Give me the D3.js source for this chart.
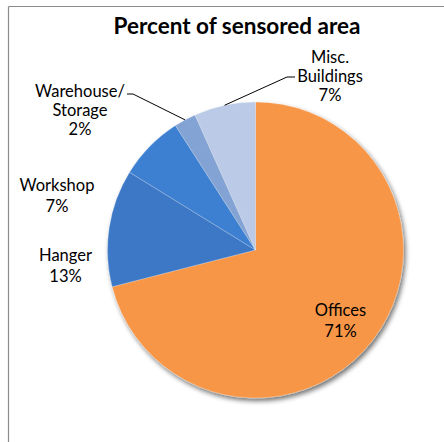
<!DOCTYPE html>
<html>
<head>
<meta charset="utf-8">
<script src="https://cdn.jsdelivr.net/npm/d3@7"></script>
<style>
  html, body { margin: 0; padding: 0; background: #fff; }
  svg { display: block; }
  text { font-family: Lato, "Open Sans", sans-serif; fill: #000; }
</style>
</head>
<body>
<div id="chart"></div>
<script>
// ---- data ----
const categories = ["Offices", "Hanger", "Workshop", "Warehouse/Storage", "Misc. Buildings"];
const values = [71.0, 12.8, 7.1, 2.4, 6.7];
const labelLines = [
  ["Offices", "71%"],
  ["Hanger", "13%"],
  ["Workshop", "7%"],
  ["Warehouse/", "Storage", "2%"],
  ["Misc.", "Buildings", "7%"]
];
const title = "Percent of sensored area";

// ---- layout ----
const W = 444, H = 442;
const cx = 255.5, cy = 250, R = 148;
// label anchor: center x, first baseline, line spacing
const labelPos = [
  { x: 340.5, y: 316, lh: 21 },
  { x: 65.5, y: 260.5, lh: 21 },
  { x: 57, y: 190.5, lh: 21 },
  { x: 80, y: 97, lh: 19 },
  { x: 330, y: 62.5, lh: 19 }
];
// leader line elbows (label side) for the outside labels
const leaders = [
  null, null, null,
  { ex: 133, ey: 94, sx: 127 },
  { ex: 287, ey: 77, sx: 295 }
];
const gradStops = [
  null,
  ["#3C78C6", "#1B3D74"],
  ["#3D80D2", "#244075"],
  ["#82A3D4", "#5A6B8C"],
  ["#BACAE7", "#6A768F"]
];
const flatColors = ["#F79646", null, null, null, null];

const svg = d3.select("#chart").append("svg").attr("width", W).attr("height", H);
const defs = svg.append("defs");

// drop shadow
const f = defs.append("filter").attr("id", "shadow")
  .attr("x", "-10%").attr("y", "-10%").attr("width", "125%").attr("height", "125%");
f.append("feGaussianBlur").attr("in", "SourceAlpha").attr("stdDeviation", 2.5).attr("result", "b");
f.append("feOffset").attr("in", "b").attr("dx", 1.5).attr("dy", 3).attr("result", "o");
f.append("feComponentTransfer").attr("in", "o").attr("result", "o2")
  .append("feFuncA").attr("type", "linear").attr("slope", 0.55);
const fm = f.append("feMerge");
fm.append("feMergeNode").attr("in", "o2");
fm.append("feMergeNode").attr("in", "SourceGraphic");

gradStops.forEach((g, i) => {
  if (!g) return;
  const lg = defs.append("linearGradient").attr("id", "g" + i)
    .attr("gradientUnits", "userSpaceOnUse")
    .attr("x1", 0).attr("y1", cy - R).attr("x2", 0).attr("y2", cy + R);
  lg.append("stop").attr("offset", 0).attr("stop-color", g[0]);
  lg.append("stop").attr("offset", 1).attr("stop-color", g[1]);
});

// frame (top and left edges visible)
svg.append("line").attr("x1", 8.5).attr("y1", 6.5).attr("x2", W).attr("y2", 6.5)
  .attr("stroke", "#8c8c8c").attr("stroke-width", 1.2);
svg.append("line").attr("x1", 8.5).attr("y1", 6.5).attr("x2", 8.5).attr("y2", H)
  .attr("stroke", "#8c8c8c").attr("stroke-width", 1.2);

// title
svg.append("text").attr("x", 237).attr("y", 34).attr("text-anchor", "middle")
  .attr("font-weight", "bold").attr("font-size", 22.5).text(title);

const pie = d3.pie().sort(null).value(d => d);
const arcs = pie(values);
const arc = d3.arc().innerRadius(0).outerRadius(R);

const g = svg.append("g").attr("transform", `translate(${cx},${cy})`);
const pg = g.append("g").attr("filter", "url(#shadow)");
pg.selectAll("path").data(arcs).join("path")
  .attr("d", arc)
  .attr("fill", (d, i) => flatColors[i] || `url(#g${i})`)
  .attr("stroke", "rgba(255,255,255,0.35)")
  .attr("stroke-width", 0.7)
  .attr("stroke-linejoin", "round");

// leader lines
arcs.forEach((a, i) => {
  const L = leaders[i];
  if (!L) return;
  const mid = (a.startAngle + a.endAngle) / 2;
  const px = cx + R * Math.sin(mid), py = cy - R * Math.cos(mid);
  svg.append("polyline")
    .attr("points", `${px},${py} ${L.ex},${L.ey} ${L.sx},${L.ey}`)
    .attr("fill", "none").attr("stroke", "#000").attr("stroke-width", 1);
});

// labels
labelLines.forEach((lines, i) => {
  const t = svg.append("text").attr("text-anchor", "middle").attr("font-size", 16.5);
  lines.forEach((s, k) => {
    t.append("tspan").attr("x", labelPos[i].x).attr("y", labelPos[i].y + k * labelPos[i].lh).text(s);
  });
});
</script>
</body>
</html>
